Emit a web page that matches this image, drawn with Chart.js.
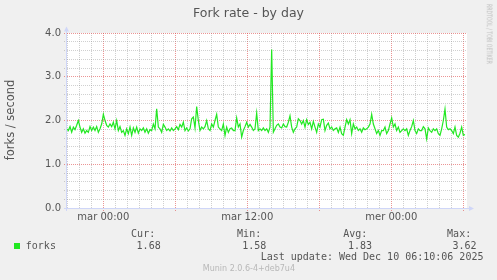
<!DOCTYPE html>
<html><head><meta charset="utf-8">
<script src="https://cdn.jsdelivr.net/npm/chart.js@4.4.1/dist/chart.umd.min.js"></script>
<style>
html,body{margin:0;padding:0;background:#f0f0f0;}
#wrap{position:relative;width:497px;height:280px;overflow:hidden;background:#f0f0f0;}
#wrap canvas{position:absolute;left:0;top:0;}
.t{position:absolute;white-space:nowrap;line-height:1;color:#555;}
.sans{font-family:"DejaVu Sans",sans-serif;}
.mono{font-family:"DejaVu Sans Mono",monospace;font-size:10px;}
</style></head><body>
<div id="wrap">
<canvas id="c" width="497" height="280"></canvas>
<div class="t sans" style="left:0;width:497px;text-align:center;top:6.8px;font-size:12.5px;">Fork rate - by day</div>
<div class="t sans" style="left:10.6px;top:119.7px;font-size:11.5px;transform:translate(-50%,-50%) rotate(-90deg);">forks / second</div>
<div class="t sans" style="left:489.3px;top:34px;font-size:7.5px;color:#bdbdbd;transform:translate(-50%,-50%) rotate(90deg) scaleX(0.62);">RRDTOOL / TOBI OETIKER</div>
<div id="legend"></div>
<div class="t mono" style="left:260.7px;top:252px;">Last update: Wed Dec 10 06:10:06 2025</div>
<div class="t sans" style="left:248.9px;top:264.9px;font-size:8px;color:#b8b8b8;transform:translateX(-50%);">Munin 2.0.6-4+deb7u4</div>
</div>
<script>
// ---- data ----
const seriesName = 'forks';
const startHour = -3.055;          // first sample, hours relative to "mar 00:00"
const stepHours = 5 / 36;          // sampling interval of the values below
const forks = [
 1.81,1.77,1.86,1.73,1.85,1.79,1.89,2.00,1.85,1.73,
 1.81,1.71,1.77,1.73,1.86,1.77,1.85,1.77,1.86,1.73,
 1.81,1.92,2.14,2.00,1.89,1.85,1.92,1.86,1.96,1.81,
 2.00,1.77,1.86,1.73,1.77,1.66,1.81,1.70,1.85,1.66,
 1.83,1.73,1.85,1.71,1.81,1.77,1.83,1.73,1.81,1.71,
 1.79,1.77,1.92,1.81,2.27,1.85,1.81,1.73,1.91,1.85,
 1.77,1.81,1.76,1.83,1.77,1.81,1.86,1.79,1.91,1.85,
 1.96,1.77,1.83,1.76,1.81,2.04,2.08,1.83,2.32,2.00,
 1.77,1.85,1.81,1.86,2.00,1.81,1.77,1.92,1.85,2.00,
 2.14,1.85,1.81,1.77,1.92,1.66,1.85,1.73,1.81,1.83,
 1.77,1.77,2.06,1.85,1.92,1.62,1.77,1.86,1.96,1.85,
 1.91,1.85,1.77,1.81,2.17,1.77,1.81,1.77,1.83,1.77,
 1.81,1.73,1.85,3.62,1.73,1.81,1.89,1.92,1.85,
 1.83,1.92,1.86,1.85,1.96,2.11,1.85,1.73,1.81,1.85,
 2.04,2.00,1.92,2.00,1.85,2.02,1.91,1.96,1.81,1.98,
 1.85,1.73,1.92,1.85,2.02,2.03,1.77,1.89,1.94,1.81,
 1.85,1.77,1.81,1.83,1.73,1.85,1.70,1.66,1.85,2.02,
 1.92,2.02,1.70,1.92,1.81,1.85,1.77,1.81,1.73,1.83,
 1.79,1.81,1.85,1.92,2.14,1.92,1.81,1.70,1.77,1.66,
 1.77,1.77,1.85,1.70,1.77,1.92,2.06,1.85,1.92,1.77,
 1.85,1.73,1.77,1.81,1.77,1.81,1.66,1.77,1.86,2.00,
 1.77,1.70,1.81,1.77,1.77,1.86,1.81,1.58,1.83,1.77,
 1.73,1.81,1.77,1.81,1.70,1.66,1.81,2.00,2.26,1.85,
 1.79,1.81,1.77,1.70,1.85,1.66,1.62,1.71,1.85,1.66,1.68
];
const xLabelHours = [0, 12, 24];
const xLabelTexts = ['mar 00:00', 'mar 12:00', 'mer 00:00'];
const yLabelValues = [0, 1, 2, 3, 4];
const yLabelTexts = ['0.0', '1.0', '2.0', '3.0', '4.0'];
const statNames = ['Cur:', 'Min:', 'Avg:', 'Max:'];
const statValues = ['1.68', '1.58', '1.83', '3.62'];

// ---- legend (HTML text) ----
const LINE = '#22e822';
const legend = document.getElementById('legend');
const statNameX = [131.1, 237.1, 343.2, 447.1];
const statValX = [136.6, 242.2, 347.9, 452.4];
let html = '<div style="position:absolute;left:14px;top:242.7px;width:6px;height:6px;background:' + LINE + '"></div>';
html += '<div class="t mono" style="left:25.8px;top:240.7px;">' + seriesName + '</div>';
statNames.forEach((n, i) => {
  html += '<div class="t mono" style="left:' + statNameX[i] + 'px;top:228.9px;">' + n + '</div>';
  html += '<div class="t mono" style="left:' + statValX[i] + 'px;top:240.7px;">' + statValues[i] + '</div>';
});
legend.innerHTML = html;

// ---- chart ----
const points = forks.map((v, i) => ({ x: startHour + i * stepHours, y: v }));
const MGRID = 'rgba(222,79,79,0.6)';
const GRID = 'rgba(143,143,143,0.42)';
const AXIS = '#CFD6F8';
const isMajorY = v => Math.abs(v - Math.round(v)) < 1e-6;

const muninPlugin = {
  id: 'munin',
  beforeDraw(chart) {
    const { ctx, chartArea: a } = chart;
    ctx.save();
    ctx.fillStyle = '#f0f0f0';
    ctx.fillRect(0, 0, chart.width, chart.height);
    ctx.fillStyle = '#ffffff';
    ctx.fillRect(a.left, a.top, a.right - a.left, a.bottom - a.top + 1);
    ctx.restore();
  },
  afterDatasetsDraw(chart) {
    const { ctx, chartArea: a } = chart;
    ctx.save();
    ctx.strokeStyle = AXIS; ctx.fillStyle = AXIS; ctx.lineWidth = 1;
    ctx.beginPath();
    ctx.moveTo(a.left - 3, a.bottom + 0.5); ctx.lineTo(a.right + 3, a.bottom + 0.5);
    ctx.moveTo(a.left - 0.5, a.bottom + 3); ctx.lineTo(a.left - 0.5, a.top - 3);
    ctx.stroke();
    ctx.beginPath();
    ctx.moveTo(a.right + 2, a.bottom - 2); ctx.lineTo(a.right + 7, a.bottom + 0.5); ctx.lineTo(a.right + 2, a.bottom + 3);
    ctx.closePath(); ctx.fill();
    ctx.beginPath();
    ctx.moveTo(a.left - 3, a.top - 1.5); ctx.lineTo(a.left - 0.5, a.top - 6.5); ctx.lineTo(a.left + 2, a.top - 1.5);
    ctx.closePath(); ctx.fill();
    ctx.restore();
  }
};

new Chart(document.getElementById('c'), {
  type: 'line',
  data: { datasets: [{ label: seriesName, data: points, borderColor: LINE, borderWidth: 1.2,
    pointRadius: 0, tension: 0, fill: false }] },
  options: {
    responsive: false, animation: false, devicePixelRatio: 1,
    layout: { padding: { left: 0, right: 30, top: 33, bottom: 0 } },
    plugins: { legend: { display: false }, title: { display: false }, tooltip: { enabled: false } },
    events: [],
    scales: {
      x: {
        type: 'linear', min: -3.028, max: 30.306,
        afterBuildTicks: s => { const t = []; for (let h = -3; h <= 30; h++) t.push({ value: h }); s.ticks = t; },
        afterFit: s => { s.height = 72; },
        ticks: {
          autoSkip: false, maxRotation: 0, minRotation: 0, padding: 0,
          color: '#555', font: { family: 'DejaVu Sans', size: 10 },
          callback: v => { const i = xLabelHours.indexOf(v); return i >= 0 ? xLabelTexts[i] : ''; }
        },
        grid: {
          color: c => (c.tick && c.tick.value % 6 === 0) ? MGRID : GRID,
          tickColor: c => (c.tick && c.tick.value % 6 === 0) ? MGRID : 'rgba(0,0,0,0)',
          lineWidth: 1, drawTicks: true, tickLength: 3, tickBorderDash: [1, 1]
        },
        border: { display: false, dash: [1, 1] }
      },
      y: {
        type: 'linear', min: 0, max: 4,
        afterBuildTicks: s => { const t = []; for (let i = 0; i <= 20; i++) t.push({ value: i / 5 }); s.ticks = t; },
        afterFit: s => { s.width = 67; },
        ticks: {
          autoSkip: false, padding: 3,
          color: '#555', font: { family: 'DejaVu Sans', size: 10 },
          callback: v => { if (!isMajorY(v)) return ''; const i = yLabelValues.indexOf(Math.round(v)); return i >= 0 ? yLabelTexts[i] : ''; }
        },
        grid: {
          color: c => (c.tick && isMajorY(c.tick.value)) ? MGRID : GRID,
          tickColor: c => (c.tick && isMajorY(c.tick.value)) ? MGRID : GRID,
          lineWidth: 1, drawTicks: true, tickLength: 3, tickBorderDash: [1, 1]
        },
        border: { display: false, dash: [1, 1] }
      }
    }
  },
  plugins: [muninPlugin]
});
</script>
</body></html>
